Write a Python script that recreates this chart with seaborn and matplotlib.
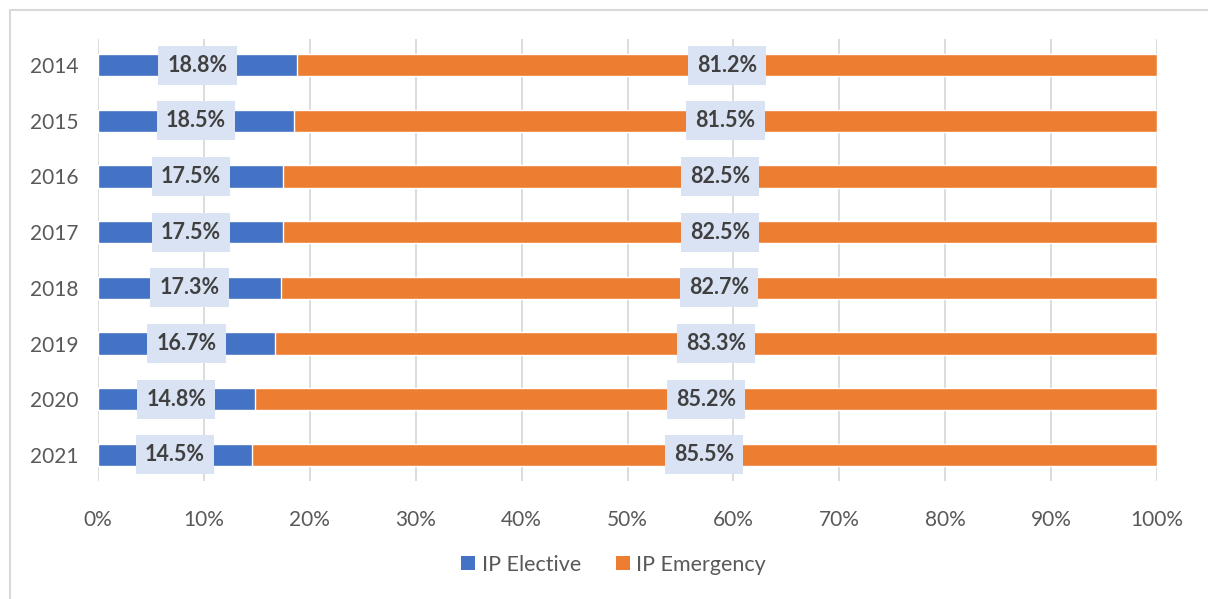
import matplotlib
matplotlib.use("Agg")
import matplotlib.pyplot as plt
import seaborn as sns
import pandas as pd
from matplotlib.patches import Patch
from matplotlib.lines import Line2D

years = ["2014", "2015", "2016", "2017", "2018", "2019", "2020", "2021"]
elective = [18.8, 18.5, 17.5, 17.5, 17.3, 16.7, 14.8, 14.5]
emergency = [81.2, 81.5, 82.5, 82.5, 82.7, 83.3, 85.2, 85.5]
series_names = ["IP Elective", "IP Emergency"]
colors = ["#4472C4", "#ED7D31"]
xticks = [0, 10, 20, 30, 40, 50, 60, 70, 80, 90, 100]

df = pd.DataFrame({"year": years, "elective": elective, "emergency": emergency})
df["total"] = df["elective"] + df["emergency"]

sns.set_theme(style="white")
plt.rcParams["font.family"] = ["Lato", "DejaVu Sans"]

W, H = 1208, 599
fig = plt.figure(figsize=(W / 100, H / 100), dpi=100)
ax = fig.add_axes([98 / W, 1 - 481 / H, (1157 - 98) / W, (481 - 39) / H])

sns.barplot(data=df, x="total", y="year", orient="h", color=colors[1],
            width=0.4, saturation=1, ax=ax, zorder=2)
sns.barplot(data=df, x="elective", y="year", orient="h", color=colors[0],
            width=0.4, saturation=1, ax=ax, zorder=3)

for i, (e, m) in enumerate(zip(elective, emergency)):
    for xc, v in ((e / 2, e), (e + m / 2, m)):
        ax.text(xc, i, f"{v:.1f}%", ha="center", va="center", fontsize=15.5,
                fontweight="bold", color="#404040", zorder=5,
                bbox=dict(boxstyle="square,pad=0.42", fc="#DAE3F3", ec="none"))

ax.set_xlim(0, 100)
ax.set_ylim(7.47, -0.47)
ax.set_xticks(xticks)
ax.set_xticklabels([f"{t}%" for t in xticks])
ax.grid(axis="x", color="#D9D9D9", linewidth=1.3, zorder=0)
ax.set_axisbelow(True)
for s in ax.spines.values():
    s.set_visible(False)
ax.set_xlabel("")
ax.set_ylabel("")
ax.tick_params(axis="both", length=0, labelsize=15, labelcolor="#595959")
ax.tick_params(axis="x", pad=21)
ax.tick_params(axis="y", pad=14)

handles = [Patch(facecolor=c, edgecolor="none", label=n) for c, n in zip(colors, series_names)]
fig.legend(handles=handles, loc="center", bbox_to_anchor=(0.508, 0.057), ncol=2,
           frameon=False, fontsize=15.5, labelcolor="#595959",
           handlelength=0.65, handleheight=0.65, handletextpad=0.3, columnspacing=1.6)

fig.add_artist(Line2D([10 / W, 10 / W], [0, 1 - 9.5 / H], color="#D9D9D9", lw=1.5, transform=fig.transFigure))
fig.add_artist(Line2D([10 / W, 1], [1 - 9.5 / H, 1 - 9.5 / H], color="#D9D9D9", lw=1.5, transform=fig.transFigure))

fig.savefig("out.png", dpi=100)
